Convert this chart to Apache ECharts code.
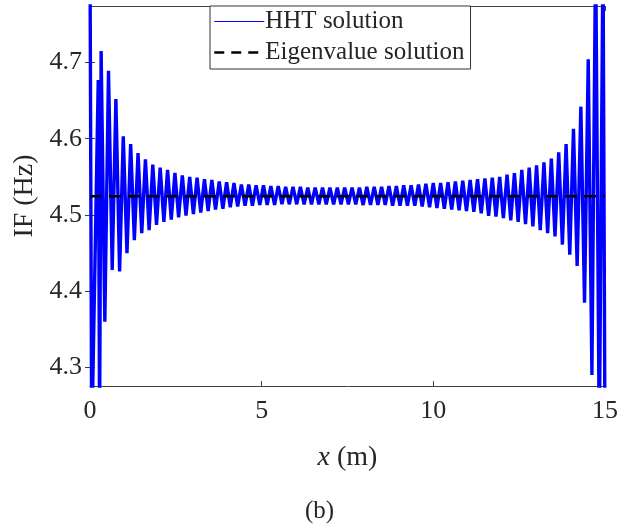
<!DOCTYPE html>
<html>
<head>
<meta charset="utf-8">
<script src="https://cdn.jsdelivr.net/npm/echarts@6/dist/echarts.min.js"></script>
<style>
  html, body { margin: 0; padding: 0; background: #fff; }
  #chart { width: 639px; height: 532px; }
</style>
</head>
<body>
<div id="chart"></div>
<script>
// values
const xTicks = [0, 5, 10, 15];
const yTicks = [4.3, 4.4, 4.5, 4.6, 4.7];

const hhtX = [
  0, 0.05, 0.24, 0.28, 0.324, 0.432, 0.539, 0.647, 0.754, 0.862,
  0.969, 1.077, 1.184, 1.292, 1.399, 1.507, 1.614, 1.722,
  1.829, 1.937, 2.044, 2.152, 2.259, 2.366, 2.474, 2.581, 2.689, 2.796,
  2.904, 3.011, 3.119, 3.226, 3.334, 3.441, 3.549, 3.656, 3.764, 3.871,
  3.979, 4.086, 4.194, 4.301, 4.409, 4.516, 4.624, 4.731, 4.838, 4.946,
  5.053, 5.161, 5.268, 5.376, 5.483, 5.591, 5.698, 5.806, 5.913, 6.021,
  6.128, 6.236, 6.343, 6.451, 6.558, 6.666, 6.773, 6.881, 6.988, 7.096,
  7.203, 7.311, 7.418, 7.526, 7.633, 7.740, 7.848, 7.955, 8.063, 8.170,
  8.278, 8.385, 8.493, 8.600, 8.708, 8.815, 8.923, 9.030, 9.138, 9.245,
  9.353, 9.460, 9.568, 9.675, 9.783, 9.890, 9.998, 10.105, 10.212, 10.320,
  10.427, 10.535, 10.642, 10.750, 10.857, 10.965, 11.072, 11.180, 11.287, 11.395,
  11.502, 11.610, 11.717, 11.825, 11.932, 12.040, 12.147, 12.255, 12.362, 12.470,
  12.577, 12.685, 12.792, 12.900, 13.007, 13.114, 13.222, 13.329, 13.437, 13.544,
  13.652, 13.759, 13.867, 13.974, 14.082, 14.189, 14.297, 14.404, 14.512, 14.619,
  14.727, 14.834, 14.942, 15.0
];
const hhtIF = [
  4.85, 4.20, 4.677, 4.22, 4.715, 4.36, 4.689, 4.428, 4.652, 4.426,
  4.603, 4.450, 4.593, 4.467, 4.581, 4.476, 4.573, 4.480,
  4.566, 4.487, 4.562, 4.491, 4.559, 4.494, 4.555, 4.497, 4.552, 4.499,
  4.550, 4.501, 4.549, 4.503, 4.547, 4.505, 4.546, 4.507, 4.544, 4.508,
  4.543, 4.510, 4.542, 4.511, 4.540, 4.512, 4.540, 4.512, 4.539, 4.513,
  4.539, 4.513, 4.538, 4.513, 4.538, 4.514, 4.537, 4.514, 4.537, 4.514,
  4.537, 4.514, 4.536, 4.514, 4.536, 4.514, 4.536, 4.514, 4.536, 4.514,
  4.536, 4.514, 4.536, 4.514, 4.536, 4.514, 4.536, 4.513, 4.537, 4.513,
  4.537, 4.513, 4.537, 4.513, 4.538, 4.512, 4.538, 4.512, 4.539, 4.512,
  4.539, 4.512, 4.540, 4.511, 4.541, 4.510, 4.542, 4.509, 4.542, 4.508,
  4.543, 4.507, 4.544, 4.506, 4.545, 4.505, 4.546, 4.504, 4.547, 4.502,
  4.548, 4.499, 4.549, 4.498, 4.550, 4.496, 4.553, 4.493, 4.555, 4.491,
  4.559, 4.488, 4.562, 4.485, 4.565, 4.480, 4.569, 4.476, 4.574, 4.472,
  4.582, 4.461, 4.593, 4.448, 4.613, 4.433, 4.642, 4.385, 4.704, 4.29,
  4.85, 4.20, 4.85, 4.20
];

const eigenX = [0, 15];
const eigenIF = [4.5245, 4.5245];

const serif = 'Liberation Serif';
const axisColor = '#404040';
const textColor = '#262626';

const chart = echarts.init(document.getElementById('chart'));

const hideAxis = {
  axisLine: { show: true, lineStyle: { color: axisColor, width: 1 } },
  axisLabel: { show: false },
  splitLine: { show: false }
};

chart.setOption({
  backgroundColor: '#fff',
  animation: false,
  grid: { left: 90, right: 34, top: 6, bottom: 146 },
  legend: {
    orient: 'vertical',
    left: 210,
    top: 6,
    itemWidth: 50,
    itemHeight: 12,
    itemGap: 6,
    padding: [3, 6, 4, 3],
    backgroundColor: '#fff',
    borderColor: '#333',
    borderWidth: 1,
    itemStyle: { opacity: 0 },
    lineStyle: { width: 1.2, color: 'inherit', type: 'inherit' },
    textStyle: { fontFamily: serif, fontSize: 25, color: textColor, padding: [0, 0, 0, -4] },
    data: [
      'HHT solution',
      { name: 'Eigenvalue solution', lineStyle: { color: '#000', width: 2.5, type: [10, 7] } }
    ]
  },
  graphic: [{
    type: 'text',
    left: 'center',
    top: 499,
    style: { text: '(b)', font: '25px "Liberation Serif"', fill: textColor }
  }],
  xAxis: [{
    type: 'value',
    min: 0,
    max: 15,
    interval: 5,
    name: '{i|x} (m)',
    nameLocation: 'middle',
    nameGap: 58,
    nameTextStyle: {
      fontFamily: serif, fontSize: 28, color: textColor,
      rich: { i: { fontFamily: serif, fontSize: 28, fontStyle: 'italic', color: textColor } }
    },
    axisLine: { show: true, lineStyle: { color: axisColor, width: 1 } },
    axisTick: { inside: true, length: 5, lineStyle: { color: axisColor } },
    axisLabel: { fontFamily: serif, fontSize: 26, color: textColor, margin: 12,
      customValues: xTicks },
    splitLine: { show: false }
  }, Object.assign({
    type: 'value', position: 'top', min: 0, max: 15, interval: 5,
    axisTick: { inside: true, length: 5, lineStyle: { color: axisColor } }
  }, hideAxis)],
  yAxis: [{
    type: 'value',
    min: 4.2757,
    max: 4.774,
    name: 'IF (Hz)',
    nameLocation: 'middle',
    nameGap: 50,
    nameTextStyle: { fontFamily: serif, fontSize: 28, color: textColor },
    axisLine: { show: true, lineStyle: { color: axisColor, width: 1 } },
    axisTick: { inside: true, length: 5, lineStyle: { color: axisColor }, customValues: yTicks },
    axisLabel: { fontFamily: serif, fontSize: 26, color: textColor, margin: 8,
      customValues: yTicks, formatter: v => v.toFixed(1) },
    splitLine: { show: false }
  }, Object.assign({
    type: 'value', position: 'right', min: 4.2757, max: 4.774,
    axisTick: { inside: true, length: 5, lineStyle: { color: axisColor }, customValues: yTicks }
  }, hideAxis)],
  series: [
    {
      name: 'HHT solution',
      type: 'line',
      symbol: 'none',
      clip: true,
      lineStyle: { color: '#0000ff', width: 3.4, join: 'bevel' },
      itemStyle: { color: '#0000ff' },
      data: hhtX.map((x, i) => [x, hhtIF[i]])
    },
    {
      name: 'Eigenvalue solution',
      type: 'line',
      symbol: 'none',
      clip: true,
      z: 3,
      lineStyle: { color: '#000', width: 2.5, type: [12, 7] },
      itemStyle: { color: '#000' },
      data: eigenX.map((x, i) => [x, eigenIF[i]])
    }
  ]
});
</script>
</body>
</html>
